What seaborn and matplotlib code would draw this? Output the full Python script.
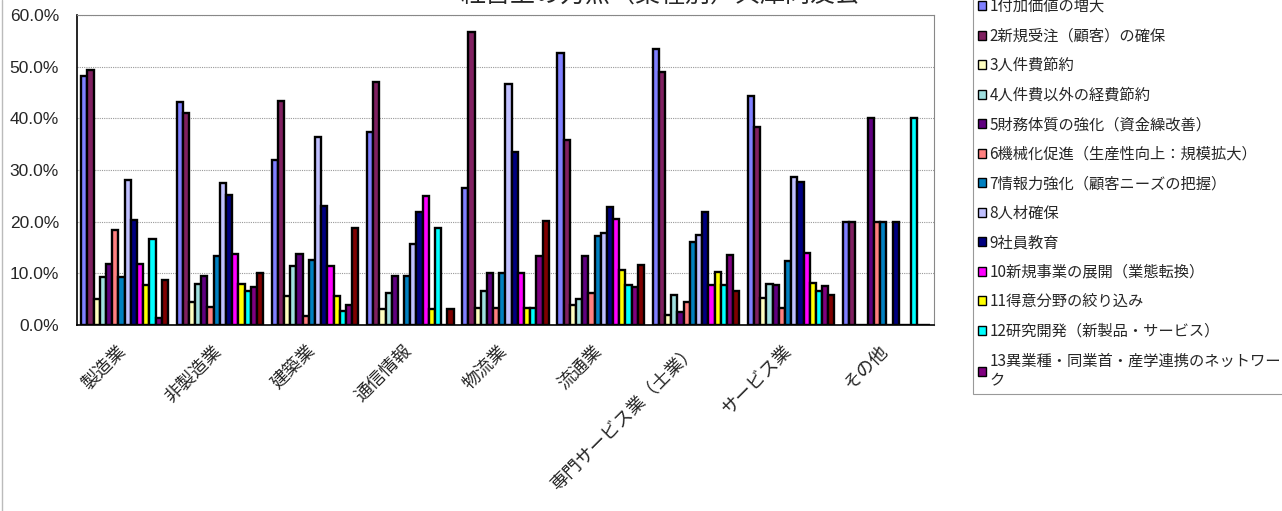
import numpy as np
import pandas as pd
import matplotlib
matplotlib.use('Agg')
import matplotlib.pyplot as plt
import matplotlib.transforms as mtransforms
import seaborn as sns
from matplotlib.patches import Patch
from matplotlib.ticker import FuncFormatter, FixedLocator

# categories (業種)
categories = ['製造業', '非製造業', '建築業', '通信情報', '物流業', '流通業',
              '専門サービス業（士業）', 'サービス業', 'その他']

# items (経営上の力点)
items = ['1付加価値の増大', '2新規受注（顧客）の確保', '3人件費節約', '4人件費以外の経費節約',
         '5財務体質の強化（資金繰改善）', '6機械化促進（生産性向上：規模拡大）',
         '7情報力強化（顧客ニーズの把握）', '8人材確保', '9社員教育',
         '10新規事業の展開（業態転換）', '11得意分野の絞り込み',
         '12研究開発（新製品・サービス）', '13異業種・同業首・産学連携のネットワーク',
         '14その他']

# values per category, % (items 1..14)
seizo = [48.1, 49.3, 5.0, 9.2, 11.9, 18.4, 9.2, 28.1, 20.3, 11.9, 7.7, 16.6, 1.4, 8.7]
hiseizo = [43.2, 41.0, 4.5, 7.9, 9.5, 3.5, 13.4, 27.4, 25.2, 13.7, 7.9, 6.5, 7.4, 10.0]
kenchiku = [31.9, 43.4, 5.7, 11.4, 13.8, 1.8, 12.5, 36.3, 23.1, 11.4, 5.7, 2.8, 3.9, 18.8]
tsushin = [37.4, 47.0, 3.1, 6.2, 9.4, 0, 9.4, 15.6, 21.9, 25.0, 3.1, 18.7, 0, 3.1]
butsuryu = [26.6, 56.7, 3.2, 6.6, 10.0, 3.2, 10.0, 46.6, 33.4, 10.0, 3.2, 3.2, 13.4, 20.1]
ryutsu = [52.6, 35.8, 3.9, 5.0, 13.4, 6.1, 17.3, 17.9, 22.9, 20.6, 10.6, 7.7, 7.3, 11.7]
senmon = [53.5, 49.0, 1.9, 5.8, 2.6, 4.5, 16.1, 17.4, 21.9, 7.7, 10.3, 7.7, 13.5, 6.5]
service = [44.4, 38.3, 5.2, 7.9, 7.7, 3.2, 12.3, 28.7, 27.7, 14.0, 8.2, 6.6, 7.5, 5.8]
sonota = [20.0, 20.0, 0, 0, 40.0, 20.0, 20.0, 0, 20.0, 0, 0, 40.0, 0, 0]

colors = ['#8080FF', '#802060', '#FFFFC0', '#A0E0E0', '#600080', '#FF8080', '#0080C0',
          '#C0C0FF', '#000080', '#FF00FF', '#FFFF00', '#00FFFF', '#800080', '#800000']

values = [seizo, hiseizo, kenchiku, tsushin, butsuryu, ryutsu, senmon, service, sonota]
rows = []
for cat, vals in zip(categories, values):
    for item, v in zip(items, vals):
        rows.append({'業種': cat, '項目': item, '割合': v})
df = pd.DataFrame(rows)

sns.set_theme(style='white')
plt.rcParams['font.family'] = ['Noto Sans CJK JP', 'DejaVu Sans']

fig = plt.figure(figsize=(12.82, 5.11), dpi=100)
ax = fig.add_axes([77 / 1282, 1 - 325 / 511, (934 - 77) / 1282, 310 / 511])

sns.barplot(data=df, x='業種', y='割合', hue='項目', order=categories, hue_order=items,
            palette=colors, saturation=1, width=0.91, gap=0, edgecolor='black',
            linewidth=1.7, errorbar=None, legend=False, ax=ax)

ax.set_xlim(-0.5, len(categories) - 0.5)
ax.set_ylim(0, 60)
ax.set_yticks(np.arange(0, 61, 10))
ax.yaxis.set_major_formatter(FuncFormatter(lambda v, p: f'{v:.1f}%'))
ax.yaxis.grid(True, color='#999999', lw=0.8, linestyle=(0, (1, 1)))
ax.set_axisbelow(True)
ax.set_xlabel('')
ax.set_ylabel('')

# y labels
for t in ax.get_yticklabels():
    t.set_fontfamily('Liberation Sans')
    t.set_fontsize(12.5)
ax.tick_params(axis='y', length=0, pad=13)

# x labels, rotated, nudged left a bit
ax.set_xticks(range(len(categories)))
ax.set_xticklabels(categories, rotation=45, ha='right', va='top',
                   rotation_mode='anchor', fontsize=13)
ax.tick_params(axis='x', length=0, pad=12)
shift = mtransforms.ScaledTranslation(-0.08, 0, fig.dpi_scale_trans)
for t in ax.get_xticklabels():
    t.set_transform(t.get_transform() + shift)

# small ticks between groups
ax.xaxis.set_minor_locator(FixedLocator(np.arange(0.5, len(categories) - 1, 1)))
ax.tick_params(axis='x', which='minor', direction='in', length=4, color='#aaaaaa', width=0.8)

for s in ['left', 'bottom']:
    ax.spines[s].set_color('black')
    ax.spines[s].set_linewidth(1.2)
for s in ['top', 'right']:
    ax.spines[s].set_color('#888888')
    ax.spines[s].set_linewidth(0.8)

# title (partly off the top like the original)
fig.text(660 / 1282, 1 - 8 / 511, '経営上の力点（業種別）兵庫同友会',
         ha='center', va='bottom', fontsize=18)

# legend
leg_labels = items[:13]
leg_labels[12] = '13異業種・同業首・産学連携のネットワー\nク'
handles = [Patch(facecolor=c, edgecolor='black', linewidth=1) for c in colors[:13]]
leg = fig.legend(handles, leg_labels, loc='upper left',
                 bbox_to_anchor=(965 / 1282, 1 + 15 / 511), fontsize=11,
                 handlelength=0.55, handleheight=0.55, handletextpad=0.2,
                 labelspacing=0.82, borderpad=0.35, frameon=True, fancybox=False,
                 edgecolor='#999999', framealpha=1)
leg.get_frame().set_linewidth(0.8)

# chart border at left
fig.add_artist(plt.Line2D([2 / 1282, 2 / 1282], [0, 1], color='#bbbbbb', lw=1))

fig.savefig('out.png', dpi=100)
